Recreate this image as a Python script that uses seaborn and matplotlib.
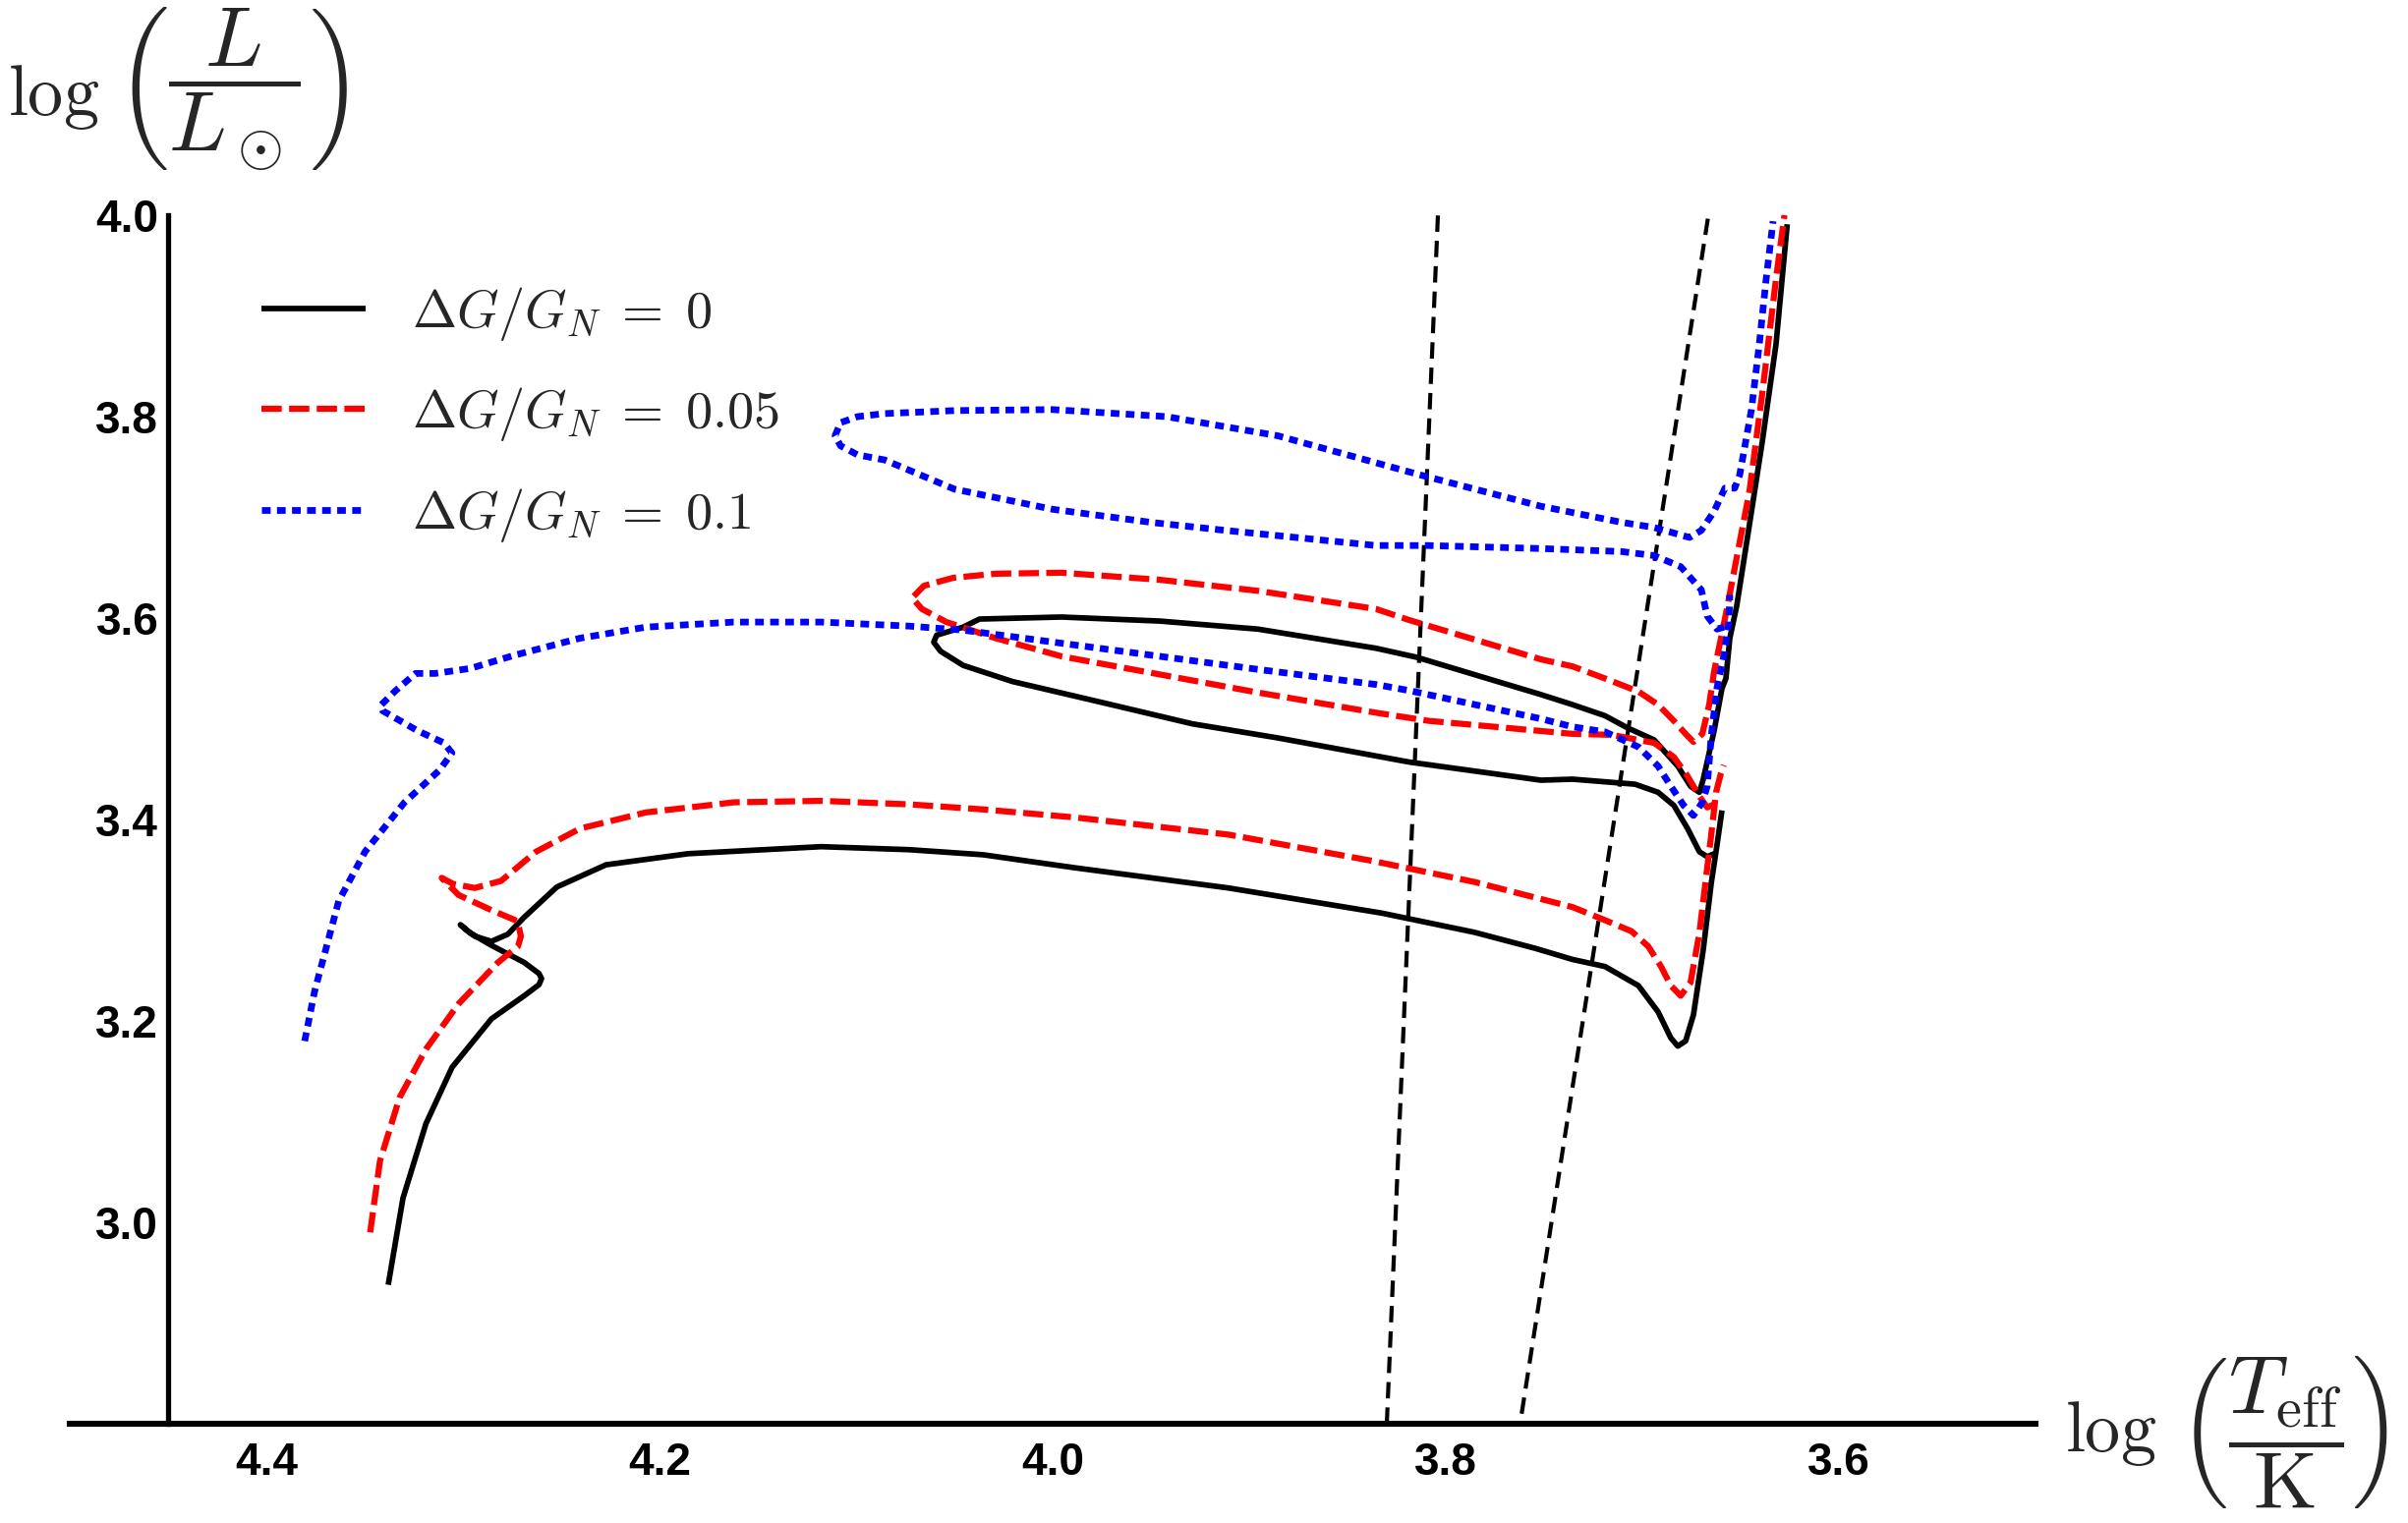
import numpy as np
import matplotlib
matplotlib.use("Agg")
import matplotlib.pyplot as plt
import seaborn as sns
from matplotlib.lines import Line2D

# ---------------- data (log Teff, log L/Lsun) ----------------
# Delta G / G_N = 0  (black, solid)
g0_main_logT = [4.338, 4.3305, 4.3188, 4.3055, 4.2855, 4.2688, 4.2613, 4.2600, 4.2613, 4.2688,
                4.2855, 4.2960, 4.3013, 4.2975, 4.2938, 4.2855, 4.2772, 4.2688, 4.2522, 4.2272,
                4.1855, 4.1177, 4.073, 4.0355, 3.9886, 3.9106, 3.8325, 3.7855, 3.7544, 3.7355,
                3.719, 3.702, 3.692, 3.6855, 3.682, 3.678, 3.674, 3.669, 3.665, 3.662, 3.6595]
g0_main_logL = [2.938, 3.024, 3.098, 3.154, 3.202, 3.225, 3.236, 3.242, 3.247, 3.258,
                3.275, 3.287, 3.2955, 3.289, 3.284, 3.279, 3.286, 3.303, 3.333, 3.355,
                3.366, 3.373, 3.370, 3.365, 3.352, 3.332, 3.307, 3.288, 3.272, 3.261,
                3.254, 3.235, 3.209, 3.183, 3.175, 3.180, 3.206, 3.271, 3.336, 3.375, 3.409]
g0_loop_logT = [3.6635, 3.667, 3.671, 3.677, 3.684, 3.692, 3.7037, 3.7355, 3.7516, 3.8186,
                3.8855, 3.929, 3.9789, 4.0205, 4.0455, 4.057, 4.0605, 4.059, 4.0455, 4.0372,
                3.9955, 3.9455, 3.8955, 3.8355, 3.8147, 3.7516, 3.7355, 3.719, 3.7076, 3.694,
                3.682, 3.6755, 3.671, 3.669, 3.6635, 3.6595, 3.6575, 3.6555, 3.652, 3.6455,
                3.639, 3.632, 3.6263]
g0_loop_logL = [3.366, 3.363, 3.368, 3.391, 3.414, 3.427, 3.435, 3.440, 3.439, 3.457,
                3.481, 3.495, 3.518, 3.537, 3.553, 3.567, 3.576, 3.583, 3.591, 3.599,
                3.601, 3.597, 3.589, 3.570, 3.561, 3.524, 3.514, 3.503, 3.491, 3.479,
                3.453, 3.433, 3.427, 3.440, 3.488, 3.530, 3.540, 3.580, 3.612, 3.693,
                3.775, 3.872, 3.991]

# Delta G / G_N = 0.05  (red, dashed)
g005_main_logT = [4.3472, 4.3422, 4.3322, 4.3188, 4.3022, 4.2822, 4.2720, 4.2705, 4.2722, 4.2855,
                  4.3022, 4.3108, 4.3050, 4.294, 4.2806, 4.2628, 4.2404, 4.2069, 4.1623, 4.1177,
                  4.073, 4.0355, 3.9886, 3.9106, 3.8377, 3.7855, 3.7355, 3.719, 3.7055, 3.697,
                  3.6905, 3.6855, 3.6805, 3.6755, 3.671, 3.668, 3.665, 3.6625, 3.660, 3.6585]
g005_main_logL = [2.990, 3.061, 3.124, 3.172, 3.217, 3.258, 3.274, 3.284, 3.299, 3.310,
                  3.325, 3.342, 3.336, 3.332, 3.339, 3.368, 3.391, 3.407, 3.417, 3.4185,
                  3.415, 3.410, 3.402, 3.385, 3.359, 3.338, 3.313, 3.300, 3.289, 3.274,
                  3.254, 3.235, 3.225, 3.238, 3.287, 3.336, 3.384, 3.427, 3.446, 3.454]
g005_loop_logT = [3.6635, 3.667, 3.671, 3.677, 3.684, 3.694, 3.7155, 3.7355, 3.809, 3.8355,
                  3.8955, 3.9455, 3.9955, 4.029, 4.054, 4.0665, 4.0715, 4.0655, 4.0505, 4.029,
                  3.9955, 3.9455, 3.8955, 3.8355, 3.8186, 3.7516, 3.7355, 3.719, 3.702, 3.692,
                  3.684, 3.678, 3.674, 3.6695, 3.666, 3.6635, 3.660, 3.657, 3.652, 3.6455,
                  3.639, 3.632, 3.6277]
g005_loop_logL = [3.415, 3.412, 3.423, 3.443, 3.462, 3.476, 3.484, 3.485, 3.498, 3.506,
                  3.526, 3.544, 3.562, 3.580, 3.596, 3.609, 3.620, 3.632, 3.640, 3.644,
                  3.645, 3.638, 3.627, 3.609, 3.598, 3.559, 3.552, 3.540, 3.527, 3.514,
                  3.498, 3.485, 3.477, 3.485, 3.514, 3.547, 3.580, 3.609, 3.660, 3.726,
                  3.823, 3.937, 4.000]

# Delta G / G_N = 0.1  (blue, dotted)
g01_main_logT = [4.3805, 4.3755, 4.3721, 4.3632, 4.3498, 4.3297, 4.3119, 4.3056, 4.3096, 4.323,
                 4.3409, 4.342, 4.3342, 4.3241, 4.3141, 4.2962, 4.2739, 4.2404, 4.2069, 4.1623,
                 4.1177, 4.073, 4.0455, 3.9955, 3.9455, 3.8955, 3.8355, 3.8186, 3.7516, 3.7355,
                 3.719, 3.702, 3.692, 3.6855, 3.679, 3.674, 3.6695, 3.667, 3.665, 3.662,
                 3.6585, 3.656, 3.6555]
g01_main_logL = [3.180, 3.229, 3.254, 3.319, 3.368, 3.417, 3.449, 3.466, 3.476, 3.488,
                 3.508, 3.513, 3.528, 3.545, 3.545, 3.550, 3.563, 3.580, 3.591, 3.596,
                 3.596, 3.592, 3.588, 3.575, 3.562, 3.549, 3.534, 3.528, 3.500, 3.492,
                 3.487, 3.472, 3.453, 3.433, 3.414, 3.404, 3.417, 3.433, 3.482, 3.531,
                 3.563, 3.596, 3.623]
g01_loop_logT = [3.6585, 3.662, 3.667, 3.670, 3.6805, 3.694, 3.7105, 3.7516, 3.809, 3.8355,
                 3.912, 3.95, 4.0, 4.05, 4.0855, 4.0992, 4.1079, 4.1107, 4.1079, 4.0992,
                 4.0855, 4.05, 4.0, 3.942, 3.8855, 3.8128, 3.7516, 3.7105, 3.6942, 3.676,
                 3.670, 3.6635, 3.658, 3.653, 3.6505, 3.6445, 3.6405, 3.637, 3.6335]
g01_loop_logL = [3.591, 3.589, 3.602, 3.628, 3.651, 3.662, 3.666, 3.669, 3.672, 3.672,
                 3.687, 3.695, 3.708, 3.728, 3.757, 3.762, 3.771, 3.781, 3.794, 3.800,
                 3.803, 3.806, 3.807, 3.800, 3.781, 3.742, 3.711, 3.695, 3.690, 3.680,
                 3.687, 3.706, 3.729, 3.729, 3.742, 3.807, 3.872, 3.937, 3.994]

# instability strip edges (black dashed)
strip_blue_logT = [3.830, 3.804]
strip_blue_logL = [2.80, 4.00]
strip_red_logT = [3.7614, 3.6664]
strip_red_logL = [2.81, 4.00]

series_labels = [r"$\Delta G/G_N\;=\;0$", r"$\Delta G/G_N\;=\;0.05$", r"$\Delta G/G_N\;=\;0.1$"]
x_major = [4.4, 4.2, 4.0, 3.8, 3.6]
x_major_labels = ["4.4", "4.2", "4.0", "3.8", "3.6"]
y_major = [3.0, 3.2, 3.4, 3.6, 3.8, 4.0]
y_major_labels = ["3.0", "3.2", "3.4", "3.6", "3.8", "4.0"]

# ---------------- figure ----------------
sns.set_theme(style="white")
plt.rcParams["font.family"] = ["Liberation Sans", "DejaVu Sans"]
plt.rcParams["mathtext.fontset"] = "cm"

fig = plt.figure(figsize=(24.5, 15.5), dpi=100)
ax = fig.add_axes([71 / 2450, 1 - 1449 / 1550, 2000 / 2450, (1449 - 219) / 1550])

styles = [
    dict(color="black", linewidth=4.1, linestyle="-"),
    dict(color="#ff0000", linewidth=4.5, linestyle=(0, (3.3, 1.2))),
    dict(color="#0000ff", linewidth=4.9, linestyle=(0, (1.3, 0.95))),
]
pieces = [
    [(g0_main_logT, g0_main_logL), (g0_loop_logT, g0_loop_logL)],
    [(g005_main_logT, g005_main_logL), (g005_loop_logT, g005_loop_logL)],
    [(g01_main_logT, g01_main_logL), (g01_loop_logT, g01_loop_logL)],
]

for (xs, ys) in [(strip_blue_logT, strip_blue_logL), (strip_red_logT, strip_red_logL)]:
    sns.lineplot(x=xs, y=ys, sort=False, estimator=None, ax=ax, color="black",
                 linewidth=3.0, linestyle=(0, (4.0, 2.2)), clip_on=False, zorder=2)

for st, plist in zip(styles, pieces):
    for xs, ys in plist:
        sns.lineplot(x=xs, y=ys, sort=False, estimator=None, ax=ax, clip_on=False,
                     zorder=3, solid_capstyle="butt", solid_joinstyle="round", **st)

ax.set_xlim(4.5, 3.5)
ax.set_ylim(2.8, 4.0)
ax.set_xlabel("")
ax.set_ylabel("")

for s in ["top", "right"]:
    ax.spines[s].set_visible(False)
ax.spines["left"].set_position(("data", 4.45))
ax.spines["left"].set_bounds(2.8, 4.0)
ax.spines["left"].set_linewidth(3.8)
ax.spines["left"].set_color("black")
ax.spines["bottom"].set_position(("data", 2.8))
ax.spines["bottom"].set_linewidth(4.4)
ax.spines["bottom"].set_color("black")
ax.spines["left"].set_zorder(5)
ax.spines["bottom"].set_zorder(5)

ax.set_xticks(x_major, labels=x_major_labels, fontsize=33, fontweight="bold")
ax.set_xticks([v for v in np.arange(3.5, 4.5001, 0.05) if min(abs(v - m) for m in x_major) > 1e-6], minor=True)
ax.set_yticks(y_major, labels=y_major_labels, fontsize=33, fontweight="bold")
ax.set_yticks([v for v in np.arange(2.8, 4.0001, 0.05) if min(abs(v - m) for m in y_major) > 1e-6], minor=True)

ax.tick_params(axis="x", which="major", direction="in", length=14, width=1.3, color="#c0c0c0", pad=13, labelcolor="black")
ax.tick_params(axis="x", which="minor", direction="in", length=6.5, width=1.0, color="#c8c8c8")
ax.tick_params(axis="y", which="major", direction="in", length=5.5, width=2.0, color="#888888", pad=7, labelcolor="black")
ax.tick_params(axis="y", which="minor", direction="in", length=3, width=1.6, color="#999999")
ax.grid(False)

handles = [Line2D([], [], solid_capstyle="butt", **st) for st in styles]
leg = ax.legend(handles, series_labels, loc="upper left",
                bbox_to_anchor=(266 / 2450, 1 - 290 / 1550), bbox_transform=fig.transFigure,
                frameon=False, fontsize=39, handlelength=1.95, handletextpad=0.88,
                labelspacing=0.80, borderpad=0, borderaxespad=0)

# axis labels (Mathematica-style, placed at axis ends)
fig.text(8 / 2450, 1 - 117 / 1550, r"$\log$", fontsize=52, ha="left", va="baseline")
fig.text(117 / 2450, 1 - 91 / 1550, r"$\left(\dfrac{L}{L_\odot}\right)$",
         fontsize=62, ha="left", va="center")
fig.text(2101 / 2450, 1 - 1477 / 1550, r"$\log$", fontsize=52, ha="left", va="baseline")
fig.text(2216 / 2450, 1 - 1457 / 1550, r"$\left(\dfrac{T_{\mathrm{eff}}}{\mathrm{K}}\right)$",
         fontsize=60, ha="left", va="center")

fig.savefig("out.png", dpi=100, facecolor="white")
